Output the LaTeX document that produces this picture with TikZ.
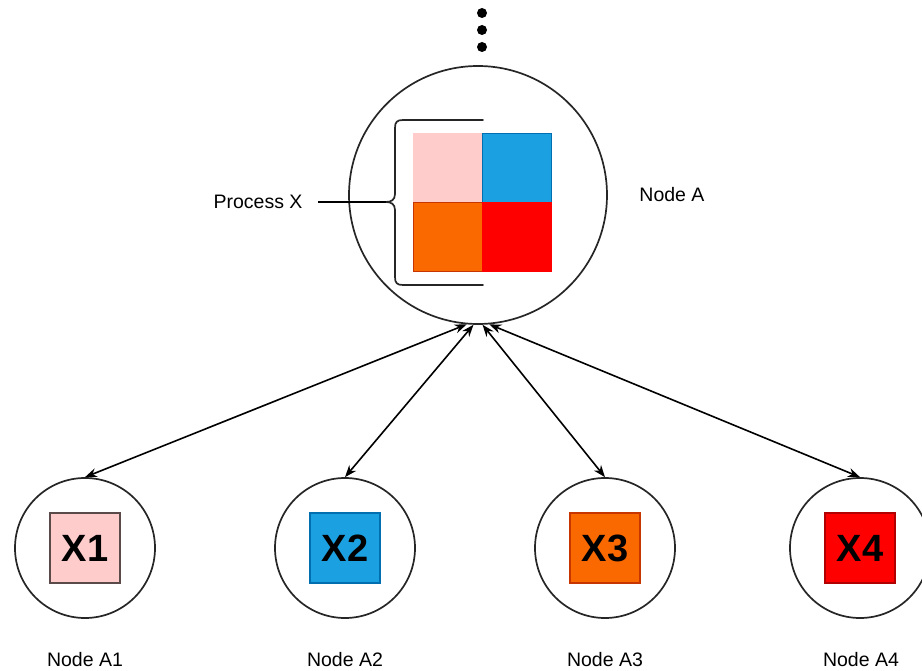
\documentclass[tikz,border=0pt]{standalone}
\usepackage{fontspec}
\setmainfont{Liberation Sans}
\usepackage{tikz}
\usetikzlibrary{arrows.meta}
\definecolor{pinkX}{HTML}{FFCCCC}
\definecolor{pinkD}{HTML}{5A4A4A}
\definecolor{blueX}{HTML}{1BA1E2}
\definecolor{blueD}{HTML}{006EAF}
\definecolor{orangeX}{HTML}{FA6800}
\definecolor{orangeD}{HTML}{C73500}
\definecolor{redX}{HTML}{FF0000}
\definecolor{redD}{HTML}{B20000}
\tikzset{
  nd_big/.style = {circle, draw=black!85, line width=1.7pt, inner sep=0pt,
    minimum size=258pt},% noeud central
  nd_small/.style = {circle, draw=black!85, line width=1.7pt, inner sep=0pt,
    minimum size=140pt},% noeud feuille
  sq/.style = {rectangle, inner sep=0pt, minimum size=69pt, line width=0.6pt},% case
  sq_x/.style = {sq, line width=1.2pt, minimum size=70pt,
    font=\fontsize{38}{42}\selectfont\bfseries},% case avec texte
  lbl/.style = {font=\fontsize{19.5}{22}\selectfont, inner sep=0pt},% etiquette
  dot/.style = {circle, fill=black, inner sep=0pt, minimum size=10pt}
}

\begin{document}
\begin{tikzpicture}[x=1pt,y=-1pt,<->,>={Stealth[length=12pt,width=9pt]},
  line width=1.6pt]
\useasboundingbox (0,0) rectangle (922,671);
% les points
\node[dot] (d1) at (482,13) {};
\node[dot] (d2) at (482,30) {};
\node[dot] (d3) at (482,47) {};
% noeud A
\node[nd_big] (A) at (478,195) {};
\node[sq, fill=pinkX, draw=pinkX] (c1) at (447.5,167.5) {};
\node[sq, fill=blueX, draw=blueD] (c2) at (516.5,167.5) {};
\node[sq, fill=orangeX, draw=orangeD] (c3) at (447.5,236.5) {};
\node[sq, fill=redX, draw=redX] (c4) at (516.5,236.5) {};
\node[lbl] (lA) at (672,195) {Node A};
% accolade
\coordinate (tip) at (386,202);
\draw[-, line width=1.7pt, draw=black!85, line cap=round] (483,120) -- (403,120)
  .. controls (397,120) and (395,122) .. (395,128) -- (395,194)
  .. controls (395,200) and (391,202) .. (tip)
  .. controls (391,202) and (395,204) .. (395,210) -- (395,277)
  .. controls (395,283) and (397,285) .. (403,285) -- (483,285);
\node[lbl] (px) at (258,202) {Process X};
\draw[-, line width=1.7pt] ([xshift=15pt]px.east) -- (tip);
% noeuds du bas
\node[nd_small] (b1) at (85,548) {};
\node[nd_small] (b2) at (345,548) {};
\node[nd_small] (b3) at (605,548) {};
\node[nd_small] (b4) at (860,548) {};
\node[sq_x, fill=pinkX, draw=pinkD] (x1) at (b1) {X1};
\node[sq_x, fill=blueX, draw=blueD] (x2) at (b2) {X2};
\node[sq_x, fill=orangeX, draw=orangeD] (x3) at (b3) {X3};
\node[sq_x, fill=redX, draw=redD] (x4) at (b4) {X4};
\node[lbl] (l1) at (85,660) {Node A1};
\node[lbl] (l2) at (345,660) {Node A2};
\node[lbl] (l3) at (605,660) {Node A3};
\node[lbl] (l4) at (861,660) {Node A4};
% liens
\draw (A.265) -- (b1.north);
\draw (A.268) -- (b2.north);
\draw (A.272) -- (b3.north);
\draw (A.275) -- (b4.north);
\end{tikzpicture}
\end{document}
